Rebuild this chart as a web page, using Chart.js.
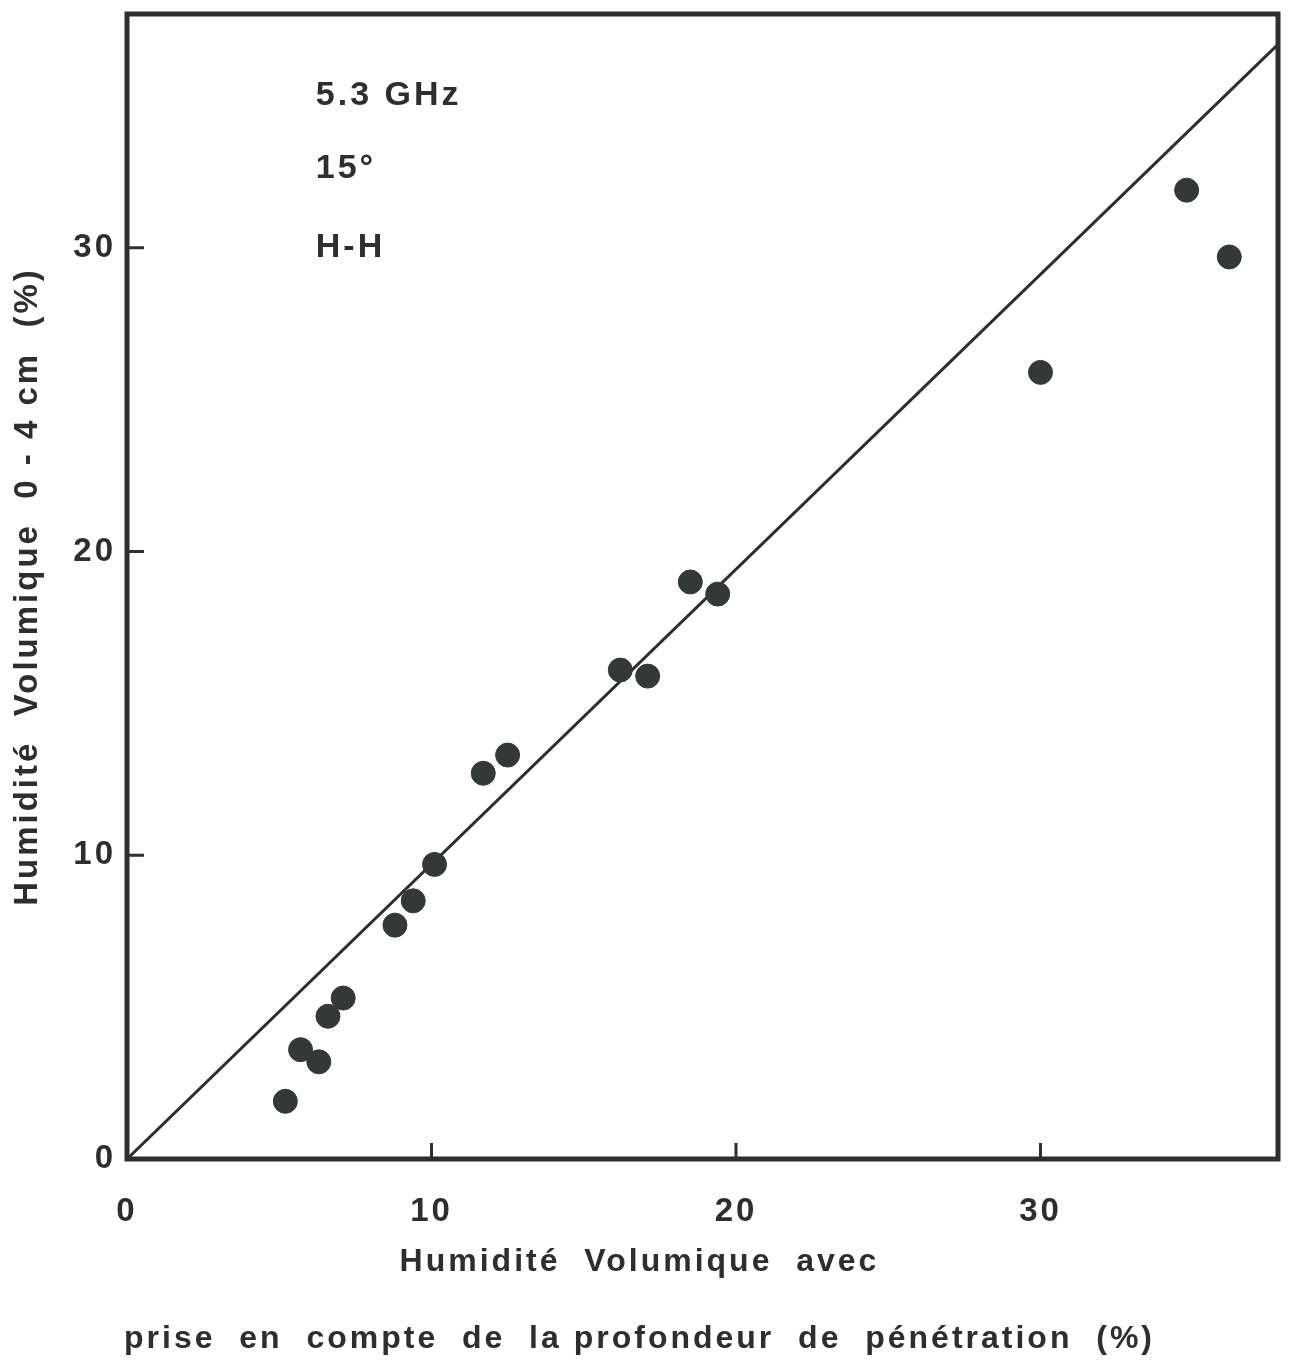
<!DOCTYPE html>
<html>
<head>
<meta charset="utf-8">
<script src="https://cdn.jsdelivr.net/npm/chart.js@4.4.1/dist/chart.umd.min.js"></script>
<style>
  html, body { margin: 0; padding: 0; background: #fff; }
  #wrap { width: 1291px; height: 1360px; }
</style>
</head>
<body>
<div id="wrap"><canvas id="chart"></canvas></div>
<script>
// soil moisture, 0-4 cm vs. penetration-depth corrected (%)
const moistureCorrected = [5.2, 5.7, 6.3, 6.6, 7.1, 8.8, 9.4, 10.1, 11.7, 12.5, 16.2, 17.1, 18.5, 19.4, 30.0, 34.8, 36.2];
const moistureSurface = [1.9, 3.6, 3.2, 4.7, 5.3, 7.7, 8.5, 9.7, 12.7, 13.3, 16.1, 15.9, 19.0, 18.6, 25.9, 31.9, 29.7];

// reference line
const refLineX = [0, 37.8];
const refLineY = [0, 36.7];

const xTicks = [0, 10, 20, 30];
const yTicks = [0, 10, 20, 30];
const notes = ["5.3 GHz", "15°", "H-H"];

const ink = "#2e2e2e";
const fontFamily = "'Liberation Sans', Arial, sans-serif";

const spacing = {
  id: "spacing",
  beforeLayout(chart) { chart.ctx.letterSpacing = "3px"; },
  beforeDraw(chart) { chart.ctx.letterSpacing = "3px"; },
};

const frame = {
  id: "frame",
  afterDraw(chart) {
    const { ctx, chartArea: a, scales } = chart;
    ctx.save();
    ctx.strokeStyle = ink;
    ctx.lineWidth = 5;
    ctx.strokeRect(a.left, a.top, a.right - a.left, a.bottom - a.top);
    ctx.lineWidth = 3;
    ctx.beginPath();
    xTicks.filter((v) => v > 0).forEach((v) => {
      const px = scales.x.getPixelForValue(v);
      ctx.moveTo(px, a.bottom);
      ctx.lineTo(px, a.bottom - 16);
    });
    yTicks.filter((v) => v > 0).forEach((v) => {
      const py = scales.y.getPixelForValue(v);
      ctx.moveTo(a.left, py);
      ctx.lineTo(a.left + 17, py);
    });
    ctx.stroke();

    // notes in the upper left
    ctx.fillStyle = ink;
    ctx.font = "bold 34px " + fontFamily;
    ctx.textAlign = "left";
    ctx.textBaseline = "middle";
    const noteY = [35, 32.6, 30];
    notes.forEach((t, i) => {
      ctx.fillText(t, scales.x.getPixelForValue(6.2), scales.y.getPixelForValue(noteY[i]));
    });
    ctx.restore();
  },
};

new Chart(document.getElementById("chart"), {
  type: "scatter",
  data: {
    datasets: [
      {
        label: "mesures",
        data: moistureCorrected.map((x, i) => ({ x, y: moistureSurface[i] })),
        backgroundColor: "#343836",
        borderColor: "#343836",
        pointRadius: 12,
        pointHoverRadius: 12,
      },
      {
        type: "line",
        label: "1:1",
        data: refLineX.map((x, i) => ({ x, y: refLineY[i] })),
        borderColor: ink,
        borderWidth: 3,
        pointRadius: 0,
        fill: false,
      },
    ],
  },
  options: {
    responsive: true,
    maintainAspectRatio: false,
    animation: false,
    layout: { padding: { left: 0, right: 12, top: 14, bottom: 0 } },
    plugins: {
      legend: { display: false },
      tooltip: { enabled: false },
      title: {
        display: true,
        position: "bottom",
        text: ["Humidité  Volumique  avec", "prise  en  compte  de  la profondeur  de  pénétration  (%)"],
        color: ink,
        font: { family: fontFamily, size: 32, weight: "bold", lineHeight: "77px" },
        padding: { top: 0, bottom: -18 },
      },
    },
    scales: {
      x: {
        type: "linear",
        min: 0,
        max: 37.8,
        afterBuildTicks(scale) { scale.ticks = xTicks.map((value) => ({ value })); },
        afterFit(scale) {
          scale.height = 65;
          scale.paddingLeft = 0;
          scale.paddingRight = 0;
        },
        grid: { display: false },
        border: { display: false },
        ticks: {
          color: ink,
          padding: 25,
          maxRotation: 0,
          font: { family: fontFamily, size: 33, weight: "bold" },
        },
      },
      y: {
        type: "linear",
        min: 0,
        max: 37.7,
        afterBuildTicks(scale) { scale.ticks = yTicks.map((value) => ({ value })); },
        afterFit(scale) {
          scale.width = 127;
          scale.paddingTop = 0;
          scale.paddingBottom = 0;
        },
        grid: { display: false },
        border: { display: false },
        title: {
          display: true,
          text: "Humidité  Volumique  0 - 4 cm  (%)",
          color: ink,
          padding: { top: 8, bottom: 0 },
          font: { family: fontFamily, size: 33, weight: "bold" },
        },
        ticks: {
          color: ink,
          padding: 3,
          font: { family: fontFamily, size: 33, weight: "bold" },
        },
      },
    },
  },
  plugins: [spacing, frame],
});
</script>
</body>
</html>
